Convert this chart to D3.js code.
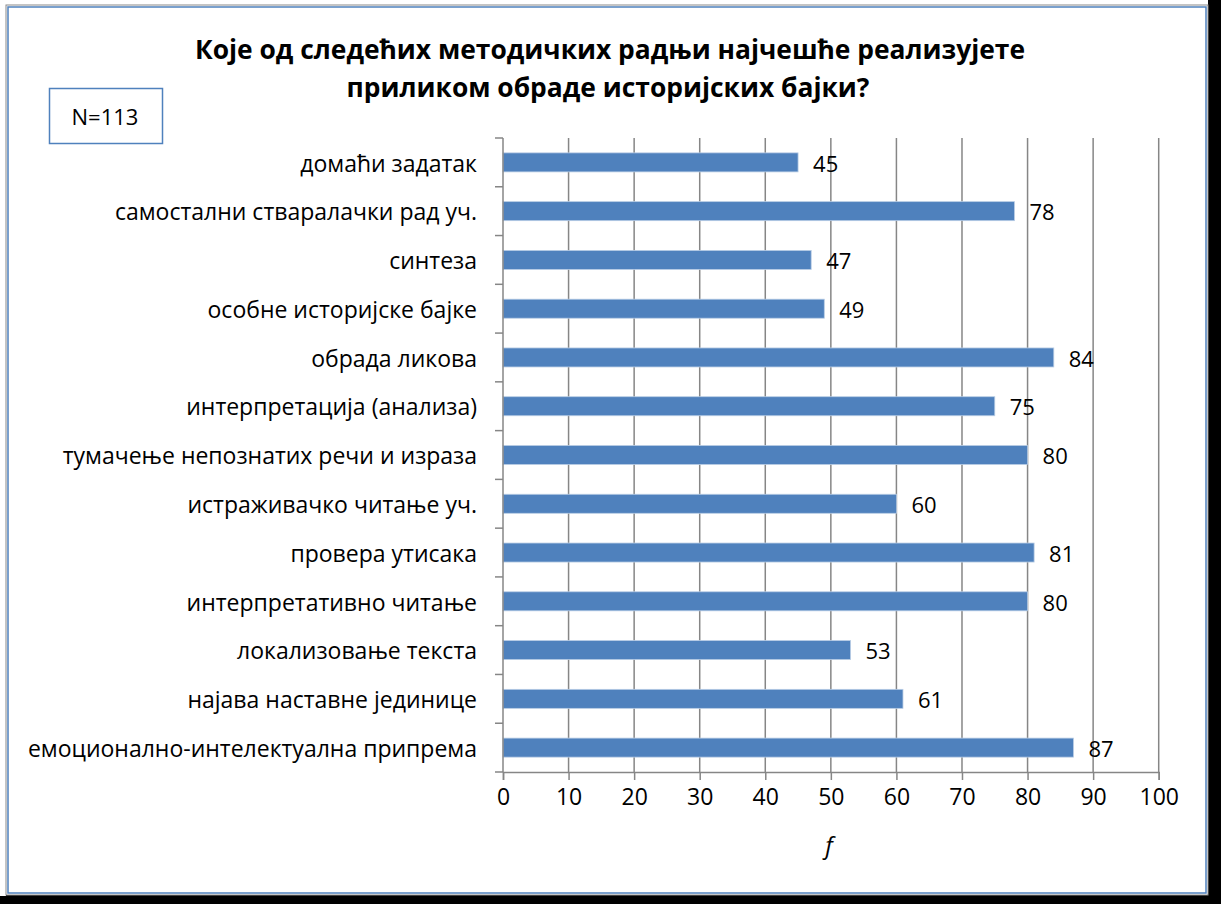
<!DOCTYPE html>
<html>
<head>
<meta charset="utf-8">
<script src="https://cdn.jsdelivr.net/npm/d3@7"></script>
<style>
  html, body { margin: 0; padding: 0; background: #000; }
  svg { display: block; }
  text { font-family: "Open Sans", "Noto Sans", sans-serif; fill: #000; }
</style>
</head>
<body>
<svg id="chart" width="1221" height="904"></svg>
<script>
// Survey answers, listed top to bottom as they appear in the chart
const categories = [
  "домаћи задатак",
  "самостални стваралачки рад уч.",
  "синтеза",
  "особне историјске бајке",
  "обрада ликова",
  "интерпретација (анализа)",
  "тумачење непознатих речи и израза",
  "истраживачко читање уч.",
  "провера утисака",
  "интерпретативно читање",
  "локализовање текста",
  "најава наставне јединице",
  "емоционално-интелектуална припрема"
];
const values = [45, 78, 47, 49, 84, 75, 80, 60, 81, 80, 53, 61, 87];
const xTicks = [0, 10, 20, 30, 40, 50, 60, 70, 80, 90, 100];
const titleLines = [
  "Које од следећих методичких радњи најчешће реализујете",
  "приликом обраде историјских бајки?"
];
const sampleNote = "N=113";
const axisTitle = "f";

const svg = d3.select("#chart");
const W = 1221, H = 904;

// frame with dark drop shadow
svg.append("rect").attr("x", 0).attr("y", 0).attr("width", W).attr("height", H).attr("fill", "#000");
svg.append("rect").attr("x", 0).attr("y", 0).attr("width", 1208).attr("height", 5).attr("fill", "#fff");
svg.append("rect").attr("x", 0).attr("y", 0).attr("width", 6).attr("height", 896).attr("fill", "#fff");
svg.append("rect").attr("x", 6).attr("y", 5).attr("width", 1202).attr("height", 890)
  .attr("fill", "#fff").attr("stroke", "#8a8a8a").attr("stroke-width", 1);
svg.append("rect").attr("x", 8).attr("y", 7).attr("width", 1198).attr("height", 886)
  .attr("fill", "none").attr("stroke", "#4f81bd").attr("stroke-width", 1.5);

const plot = { left: 503, right: 1158.7, top: 138, bottom: 772 };

const x = d3.scaleLinear().domain([0, 100]).range([plot.left, plot.right]);
const y = d3.scaleBand().domain(categories).range([plot.top, plot.bottom]).paddingInner(0.61).paddingOuter(0.305);

const gridColor = "#868686";

// vertical gridlines
svg.append("g").selectAll("line").data(xTicks.filter(d => d > 0)).join("line")
  .attr("x1", d => x(d)).attr("x2", d => x(d))
  .attr("y1", plot.top).attr("y2", plot.bottom)
  .attr("stroke", gridColor).attr("stroke-width", 1.5);

// bars
svg.append("g").selectAll("rect").data(values).join("rect")
  .attr("x", x(0))
  .attr("y", (d, i) => y(categories[i]))
  .attr("width", d => x(d) - x(0))
  .attr("height", y.bandwidth())
  .attr("fill", "#4f81bd")
  .attr("stroke", "#b9cde5").attr("stroke-width", 0.8);

// x axis
const xAxis = svg.append("g").attr("transform", `translate(0,${plot.bottom})`)
  .call(d3.axisBottom(x).tickValues(xTicks).tickSize(8).tickPadding(9));
xAxis.select(".domain").attr("stroke", gridColor).attr("stroke-width", 1.5);
xAxis.selectAll(".tick line").attr("stroke", gridColor).attr("stroke-width", 1.5);
xAxis.selectAll(".tick text").attr("font-size", 23).attr("font-family", "'Open Sans', sans-serif").attr("fill", "#000");

// y axis: ticks between categories
const yBounds = d3.range(categories.length + 1).map(i => plot.top + i * (plot.bottom - plot.top) / categories.length);
svg.append("line").attr("x1", plot.left).attr("x2", plot.left).attr("y1", plot.top).attr("y2", plot.bottom)
  .attr("stroke", gridColor).attr("stroke-width", 1.5);
svg.append("g").selectAll("line").data(yBounds).join("line")
  .attr("x1", plot.left - 8).attr("x2", plot.left)
  .attr("y1", d => d).attr("y2", d => d)
  .attr("stroke", gridColor).attr("stroke-width", 1.5);

// category labels
svg.append("g").selectAll("text").data(categories).join("text")
  .attr("x", 477)
  .attr("y", d => y(d) + y.bandwidth() / 2)
  .attr("dy", "0.4em")
  .attr("text-anchor", "end")
  .attr("font-size", 23)
  .text(d => d);

// value labels
svg.append("g").selectAll("text").data(values).join("text")
  .attr("x", d => x(d) + 15)
  .attr("y", (d, i) => y(categories[i]) + y.bandwidth() / 2)
  .attr("dy", "0.42em")
  .attr("font-size", 22)
  .text(d => d);

// title
svg.append("text").attr("x", 610).attr("y", 59).attr("text-anchor", "middle")
  .attr("font-size", 26.4).attr("font-weight", "bold").text(titleLines[0]);
svg.append("text").attr("x", 608).attr("y", 97).attr("text-anchor", "middle")
  .attr("font-size", 26.4).attr("font-weight", "bold").text(titleLines[1]);

// sample size box
svg.append("rect").attr("x", 49.5).attr("y", 88.5).attr("width", 113).attr("height", 55)
  .attr("fill", "#fff").attr("stroke", "#4f81bd").attr("stroke-width", 1.5);
svg.append("text").attr("x", 105).attr("y", 125).attr("text-anchor", "middle")
  .attr("font-size", 22).text(sampleNote);

// axis title
svg.append("text").attr("x", 829).attr("y", 854).attr("text-anchor", "middle")
  .attr("font-size", 24).attr("font-style", "italic").text(axisTitle);
</script>
</body>
</html>
